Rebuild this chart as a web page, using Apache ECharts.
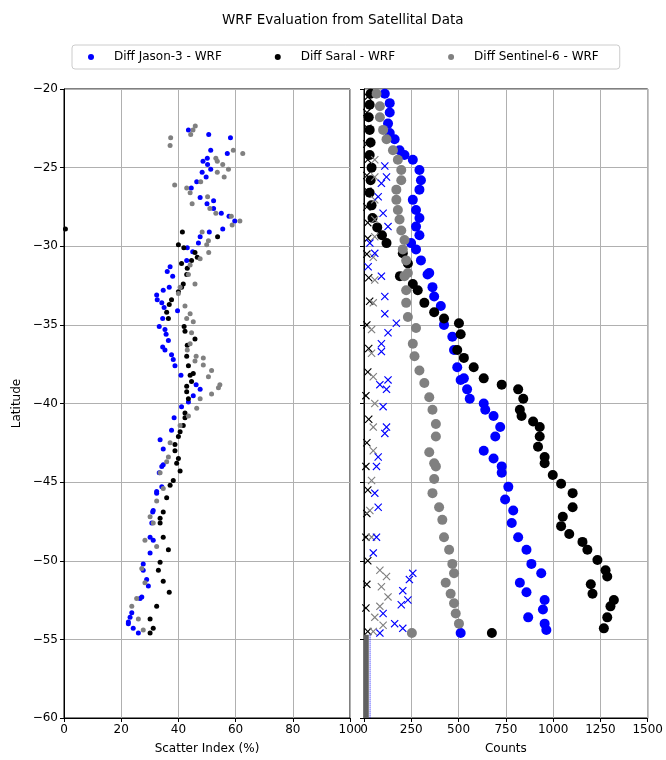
<!DOCTYPE html>
<html>
<head>
<meta charset="utf-8">
<script src="https://cdn.jsdelivr.net/npm/echarts@6/dist/echarts.min.js"></script>
<style>
  html, body { margin: 0; padding: 0; background: #fff; }
  #chart { width: 666px; height: 760px; }
</style>
</head>
<body>
<div id="chart"></div>
<script>
// scatter index (%) vs latitude, one list per satellite
const jasonSI = [[43.5,-22.6],[50.6,-22.9],[58.2,-23.1],[51.3,-23.9],[57.1,-24.1],[50.1,-24.4],[48.6,-24.6],[50.2,-24.8],[51.3,-25.1],[48.3,-25.3],[49.7,-25.6],[46.4,-25.9],[44.5,-26.3],[47.6,-26.9],[52.3,-27.1],[50.0,-27.3],[52.3,-27.6],[55.0,-27.9],[57.7,-28.1],[59.7,-28.4],[55.5,-28.9],[50.8,-29.1],[47.6,-29.4],[47.0,-29.8],[43.1,-30.1],[45.0,-30.35],[42.9,-30.9],[37.1,-31.3],[36.1,-31.6],[38.0,-31.9],[36.8,-32.6],[34.7,-32.8],[32.4,-33.1],[32.6,-33.4],[34.2,-33.6],[35.0,-33.9],[39.7,-34.1],[34.5,-34.6],[33.3,-35.1],[35.3,-35.3],[35.7,-35.6],[36.5,-36.0],[34.5,-36.4],[35.3,-36.6],[37.6,-36.9],[38.2,-37.2],[38.8,-37.6],[40.9,-38.2],[46.2,-38.8],[47.6,-39.1],[45.2,-39.5],[43.5,-39.9],[41.1,-40.2],[38.5,-40.9],[37.6,-41.7],[33.6,-42.3],[34.7,-42.9],[34.7,-43.9],[34.2,-44.0],[33.3,-44.4],[34.2,-45.3],[32.4,-45.6],[32.4,-45.7],[31.2,-46.8],[31.0,-46.9],[30.7,-47.6],[30.1,-48.5],[31.2,-48.7],[30.1,-49.5],[27.7,-50.2],[27.7,-50.6],[28.9,-51.2],[29.5,-51.6],[27.2,-52.3],[26.6,-52.4],[23.7,-53.3],[23.1,-53.6],[22.5,-53.9],[22.5,-54.0],[24.2,-54.3],[26.0,-54.6]];
const saralSI = [[0.5,-28.9],[41.4,-29.1],[53.7,-29.4],[40.0,-29.9],[41.9,-30.1],[45.8,-30.4],[46.6,-30.7],[44.6,-30.9],[41.1,-31.1],[43.1,-31.4],[42.9,-31.8],[41.7,-32.4],[41.1,-32.6],[40.0,-32.9],[37.6,-33.4],[36.8,-33.7],[35.9,-34.2],[36.5,-34.6],[42.0,-35.1],[42.3,-35.4],[45.8,-35.9],[43.1,-36.3],[42.9,-37.0],[43.5,-37.6],[45.2,-38.1],[44.1,-38.2],[44.6,-38.6],[42.9,-38.9],[42.9,-39.25],[43.5,-39.7],[42.3,-40.6],[42.3,-40.9],[41.7,-41.4],[40.6,-41.8],[40.0,-42.1],[38.8,-42.6],[38.8,-43.0],[40.0,-43.5],[39.4,-43.8],[40.6,-44.3],[38.2,-44.9],[37.1,-45.2],[35.9,-46.0],[34.7,-46.9],[33.6,-47.3],[33.6,-47.6],[34.7,-48.5],[36.5,-49.3],[33.6,-50.1],[33.0,-50.6],[34.7,-51.3],[36.8,-52.0],[32.4,-52.9],[30.1,-53.7],[31.2,-54.3],[30.1,-54.6]];
const sentinelSI = [[45.9,-22.35],[45.1,-22.6],[44.3,-22.9],[37.3,-23.1],[37.1,-23.6],[59.2,-23.9],[62.5,-24.1],[53.1,-24.4],[53.6,-24.6],[55.5,-24.8],[57.5,-25.1],[53.6,-25.3],[56.0,-25.6],[47.8,-25.9],[38.7,-26.1],[42.9,-26.3],[44.1,-26.6],[50.2,-26.85],[44.8,-27.3],[51.0,-27.6],[53.1,-27.9],[58.5,-28.1],[61.5,-28.4],[58.8,-28.65],[48.3,-29.1],[50.5,-29.65],[49.9,-29.9],[50.6,-30.4],[47.6,-30.8],[44.1,-31.2],[43.5,-31.8],[45.8,-32.4],[40.6,-32.6],[40.0,-33.0],[42.3,-33.8],[44.1,-34.3],[42.9,-34.6],[45.2,-34.8],[44.6,-35.5],[44.1,-36.2],[43.1,-36.6],[46.2,-37.0],[48.7,-37.1],[45.8,-37.3],[48.7,-37.55],[51.6,-37.9],[50.5,-38.3],[54.5,-38.8],[54.0,-39.0],[51.6,-39.4],[47.6,-39.7],[46.4,-40.3],[43.5,-40.8],[40.6,-41.4],[37.1,-42.5],[36.5,-43.4],[35.9,-43.7],[33.6,-44.4],[34.7,-45.4],[32.4,-46.2],[30.1,-47.2],[31.2,-47.6],[28.3,-48.7],[32.4,-49.1],[27.2,-50.5],[28.3,-51.4],[25.4,-52.4],[23.7,-52.9],[26.0,-53.7],[27.7,-54.4]];

// counts vs latitude (circles)
const jasonCnt = [[110,-20.3],[136,-20.9],[136,-21.5],[127,-22.2],[136,-22.8],[162,-23.2],[188,-23.9],[214,-24.2],[258,-24.5],[293,-25.15],[301,-25.8],[293,-26.4],[258,-27.05],[275,-27.7],[293,-28.2],[275,-28.75],[293,-29.3],[249,-29.8],[275,-30.2],[301,-30.9],[345,-31.7],[336,-31.8],[362,-32.6],[371,-33.2],[406,-33.8],[423,-35.0],[467,-35.75],[476,-36.6],[493,-37.7],[511,-38.5],[528,-38.4],[545,-39.1],[559,-39.7],[633,-40.0],[641,-40.4],[685,-40.8],[720,-41.5],[694,-42.1],[633,-43.0],[685,-43.5],[728,-44.0],[728,-44.4],[763,-45.3],[746,-46.1],[789,-46.8],[781,-47.6],[815,-48.5],[859,-49.3],[885,-50.2],[937,-50.8],[824,-51.4],[859,-52.0],[955,-52.5],[946,-53.1],[868,-53.6],[955,-54.0],[964,-54.4],[511,-54.6]];
const saralCnt = [[35,-20.3],[30,-21.0],[25,-21.8],[30,-22.6],[35,-23.4],[30,-24.2],[40,-25.0],[35,-25.8],[30,-26.6],[40,-27.4],[45,-28.2],[70,-28.8],[95,-29.3],[119,-29.8],[205,-30.45],[232,-31.1],[190,-31.9],[258,-32.4],[284,-32.8],[319,-33.6],[371,-34.2],[423,-34.6],[502,-34.9],[511,-35.6],[493,-36.6],[528,-37.1],[580,-37.7],[633,-38.4],[728,-38.8],[815,-39.1],[842,-39.7],[824,-40.4],[833,-40.8],[894,-41.15],[929,-41.5],[929,-42.1],[920,-42.75],[955,-43.4],[955,-43.8],[998,-44.55],[1042,-45.1],[1103,-45.7],[1103,-46.6],[1051,-47.2],[1042,-47.8],[1085,-48.3],[1155,-48.8],[1181,-49.3],[1234,-49.95],[1277,-50.6],[1286,-51.0],[1199,-51.5],[1208,-52.1],[1321,-52.5],[1303,-52.9],[1286,-53.6],[1268,-54.3],[676,-54.6]];
const sentinelCnt = [[66,-20.3],[84,-21.1],[84,-21.8],[101,-22.6],[119,-23.2],[153,-23.9],[179,-24.5],[197,-25.15],[197,-25.8],[171,-26.4],[171,-27.05],[179,-27.7],[188,-28.3],[197,-29.0],[214,-29.6],[205,-30.2],[223,-30.9],[232,-31.7],[214,-31.9],[223,-32.8],[223,-33.6],[232,-34.5],[275,-35.2],[258,-36.2],[267,-37.0],[293,-37.9],[319,-38.7],[345,-39.6],[362,-40.4],[380,-41.3],[380,-42.1],[345,-43.1],[371,-43.8],[380,-44.0],[371,-44.8],[362,-45.7],[397,-46.6],[414,-47.4],[423,-48.5],[450,-49.3],[467,-50.2],[476,-50.8],[432,-51.4],[458,-52.1],[476,-52.7],[485,-53.35],[502,-54.0],[253,-54.6]];

// counts vs latitude (crosses)
const jasonCross = [[110,-24.9],[119,-25.6],[92,-26.0],[75,-26.85],[101,-27.9],[127,-28.75],[31,-29.8],[57,-30.45],[22,-31.3],[92,-31.9],[110,-33.2],[110,-34.3],[171,-34.9],[127,-35.5],[92,-36.2],[92,-36.7],[127,-38.5],[84,-38.8],[119,-39.1],[101,-40.2],[119,-41.5],[110,-41.9],[75,-43.4],[66,-44.0],[57,-45.7],[75,-46.6],[66,-48.5],[49,-49.5],[258,-50.8],[240,-51.2],[205,-51.9],[232,-52.5],[197,-52.8],[101,-53.35],[162,-54.0],[205,-54.3],[84,-54.6]];
const saralCross = [[20,-20.5],[15,-21.5],[20,-22.5],[15,-23.5],[20,-24.5],[15,-25.5],[20,-26.5],[15,-27.5],[20,-28.5],[20,-29.5],[15,-30.5],[25,-32.0],[30,-33.5],[15,-35.0],[25,-36.5],[20,-38.0],[10,-39.5],[25,-41.0],[15,-42.5],[10,-44.0],[20,-45.5],[15,-47.0],[10,-48.5],[20,-50.0],[15,-51.5],[10,-53.0],[20,-54.5]];
const sentinelCross = [[57,-24.5],[57,-25.6],[57,-27.05],[57,-28.3],[57,-29.4],[49,-30.7],[57,-32.15],[49,-33.6],[40,-35.3],[40,-36.8],[49,-38.3],[57,-40.0],[49,-41.5],[49,-43.0],[40,-44.9],[31,-46.8],[40,-48.5],[84,-50.6],[119,-51.0],[92,-51.65],[127,-52.3],[84,-52.9],[57,-53.6],[101,-54.1],[49,-54.5]];

// near-zero counts south of the data
const sentinelZero = [[12,-54.7],[12,-60]];
const jasonZero = [[32,-54.7],[32,-60]];

const names = ['Diff Jason-3 - WRF', 'Diff Saral - WRF', 'Diff Sentinel-6 - WRF'];
const colors = ['#0000ff', '#000000', '#808080'];

const crossPath = 'path://M0,1L1,0L5,4L9,0L10,1L6,5L10,9L9,10L5,6L1,10L0,9L4,5Z';
const font = 'DejaVu Sans';
const minus = v => String(v).replace('-', '\u2212');

function xAxisOf(idx, max, interval, label) {
  return {
    type: 'value', gridIndex: idx, min: 0, max: max, interval: interval,
    name: label, nameLocation: 'middle', nameGap: 25,
    nameTextStyle: { color: '#000', fontSize: 12, fontFamily: font },
    axisLine: { lineStyle: { color: '#000' } },
    axisTick: { length: 4, lineStyle: { color: '#000' } },
    axisLabel: { color: '#000', fontSize: 12, fontFamily: font, margin: 6, formatter: v => String(v) },
    splitLine: { lineStyle: { color: '#b0b0b0', width: 1 } }
  };
}
function yAxisOf(idx, showLabel) {
  return {
    type: 'value', gridIndex: idx, min: -60, max: -20, interval: 5,
    name: showLabel ? 'Latitude' : '', nameLocation: 'middle', nameGap: 41,
    nameRotate: 90,
    nameTextStyle: { color: '#000', fontSize: 12, fontFamily: font },
    axisLine: { onZero: false, lineStyle: { color: '#000' } },
    axisTick: { length: 4, lineStyle: { color: '#000' } },
    axisLabel: { show: showLabel, color: '#000', fontSize: 12, fontFamily: font, margin: 6, formatter: minus },
    splitLine: { lineStyle: { color: '#b0b0b0', width: 1 } }
  };
}
function dots(name, data, color, xi, size, symbol) {
  return {
    name: name, type: 'scatter', xAxisIndex: xi, yAxisIndex: xi,
    data: data, symbol: symbol || 'circle', symbolSize: size,
    itemStyle: { color: color, opacity: 1 }, clip: true
  };
}

const chart = echarts.init(document.getElementById('chart'));
chart.setOption({
  animation: false,
  backgroundColor: '#fff',
  title: {
    text: 'WRF Evaluation from Satellital Data', left: 217, top: 8,
    textStyle: { fontSize: 13.5, fontWeight: 'normal', color: '#000', fontFamily: font }
  },
  legend: {
    data: names.map(n => ({ name: n, icon: 'circle' })),
    left: 72, top: 45, padding: [6, 21, 6, 16],
    itemWidth: 6, itemHeight: 6, itemGap: 53,
    borderColor: '#cccccc', borderWidth: 1, borderRadius: 3,
    textStyle: { fontSize: 12, color: '#000', fontFamily: font, padding: [0, 0, 0, 15] }
  },
  grid: [
    { left: 64, right: 316, top: 89, bottom: 42, show: true, borderColor: '#000', borderWidth: 1 },
    { left: 364, right: 15, top: 89, bottom: 42, show: true, borderColor: '#000', borderWidth: 1 }
  ],
  xAxis: [xAxisOf(0, 100, 20, 'Scatter Index (%)'), xAxisOf(1, 1500, 250, 'Counts')],
  yAxis: [yAxisOf(0, true), yAxisOf(1, false)],
  series: [
    dots(names[0], jasonSI, colors[0], 0, 5),
    dots(names[1], saralSI, colors[1], 0, 5),
    dots(names[2], sentinelSI, colors[2], 0, 5),
    dots('Jason-3 counts', jasonCnt, colors[0], 1, 10),
    dots('Saral counts', saralCnt, colors[1], 1, 10),
    dots('Sentinel-6 counts', sentinelCnt, colors[2], 1, 10),
    {
      type: 'line', xAxisIndex: 1, yAxisIndex: 1, data: sentinelZero, symbol: 'none',
      lineStyle: { color: '#606060', width: 5 }
    },
    {
      type: 'line', xAxisIndex: 1, yAxisIndex: 1, data: jasonZero, symbol: 'none',
      lineStyle: { color: '#0000ff', width: 1, type: 'dotted' }
    },
    dots('Saral cross', saralCross, colors[1], 1, 8, crossPath),
    dots('Sentinel-6 cross', sentinelCross, colors[2], 1, 8, crossPath),
    dots('Jason-3 cross', jasonCross, colors[0], 1, 8, crossPath)
  ]
});
</script>
</body>
</html>
